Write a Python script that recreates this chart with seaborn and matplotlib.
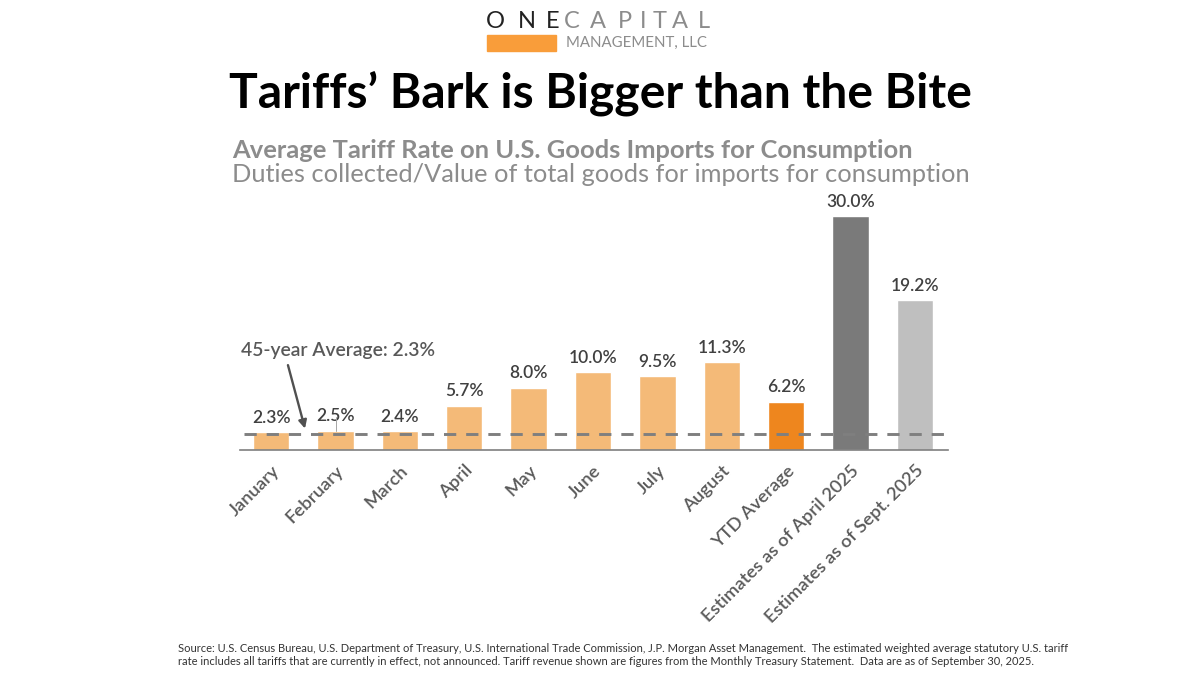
import matplotlib
matplotlib.use("Agg")
import matplotlib.pyplot as plt
import seaborn as sns
import pandas as pd
from matplotlib.patches import Rectangle

categories = ["January","February","March","April","May","June","July","August","YTD Average","Estimates as of April 2025","Estimates as of Sept. 2025"]
values = [2.3,2.5,2.4,5.7,8.0,10.0,9.5,11.3,6.2,30.0,19.2]
colors = ["#F4BA78"]*8 + ["#EE861E","#7A7A7A","#BFBFBF"]
avg_line = 2.05

sns.set_theme(style="white")
plt.rcParams['font.family'] = ['Lato','DejaVu Sans']

fig = plt.figure(figsize=(12,6.75), dpi=100)
W,H = 1200,675
ax = fig.add_axes([240/W, 1-450/H, 708/W, 233.6/H])
df = pd.DataFrame({"cat":categories,"val":values})
sns.barplot(data=df,x="cat",y="val",hue="cat",palette=colors,legend=False,ax=ax,width=0.565,saturation=1,dodge=False)
ax.set_xlim(-0.485,10.515)
ax.set_ylim(0,30)
ax.set_xlabel("");ax.set_ylabel("")
ax.set_yticks([])
for s in ["top","left","right"]:
    ax.spines[s].set_visible(False)
ax.spines["bottom"].set_color("#7F7F7F")
ax.spines["bottom"].set_linewidth(1.2)
ax.tick_params(axis="x",length=0,pad=9)
ax.set_xticks(range(len(categories)))
ax.set_xticklabels(categories,rotation=45,ha="right",rotation_mode="anchor",fontsize=13.2,color="#595959",fontweight="semibold")
for i,v in enumerate(values):
    ax.annotate(f"{v:.1f}%",(i,v),xytext=(0,4.5),textcoords="offset points",ha="center",va="bottom",fontsize=12.5,color="#404040",fontweight="semibold",annotation_clip=False)
ax.plot([-0.43,10.47],[avg_line,avg_line],color="#7F7F7F",lw=2.1,ls=(0,(4.2,3.4)),zorder=5,clip_on=False)
ax.plot([1,1],[2.5,4.2],color="#A6A6A6",lw=0.7,zorder=4)
ax.annotate("",xy=(0.525,2.75),xytext=(0.26,10.9),arrowprops=dict(arrowstyle="-|>",color="#505050",lw=1.7,shrinkA=0,shrinkB=0))
ax.text(-0.47,12.8,"45-year Average: 2.3%",fontsize=13.9,color="#595959",fontweight="semibold",va="center",ha="left")

fig.text(600/W,1-93/H,"Tariffs’ Bark is Bigger than the Bite",ha="center",va="center",fontsize=34.6,fontweight="bold",color="black")
fig.text(232/W,1-150/H,"Average Tariff Rate on U.S. Goods Imports for Consumption",ha="left",va="center",fontsize=18.35,fontweight="bold",color="#8C8C8C")
fig.text(232/W,1-174/H,"Duties collected/Value of total goods for imports for consumption",ha="left",va="center",fontsize=18.3,color="#8C8C8C")
# logo
fig.add_artist(Rectangle((487/W,1-51/H),69/W,16/H,transform=fig.transFigure,color="#F99D3A"))
for ch,x,c in [("O",495,"#222222"),("N",527,"#222222"),("E",553,"#222222"),("C",572,"#8C8C8C"),("A",598,"#8C8C8C"),("P",625,"#8C8C8C"),("I",643,"#8C8C8C"),("T",660,"#8C8C8C"),("A",680,"#8C8C8C"),("L",704,"#8C8C8C")]:
    fig.text(x/W,1-21/H,ch,ha="center",va="center",fontsize=17,color=c,fontweight="normal")
fig.text(566/W,1-43/H,"MANAGEMENT, LLC",ha="left",va="center",fontsize=10.8,color="#8C8C8C")
fig.text(178/W,1-655/H,"Source: U.S. Census Bureau, U.S. Department of Treasury, U.S. International Trade Commission, J.P. Morgan Asset Management.  The estimated weighted average statutory U.S. tariff\nrate includes all tariffs that are currently in effect, not announced. Tariff revenue shown are figures from the Monthly Treasury Statement.  Data are as of September 30, 2025.",ha="left",va="center",fontsize=8.03,color="#333333",linespacing=1.15)
fig.savefig("out.png",dpi=100)
